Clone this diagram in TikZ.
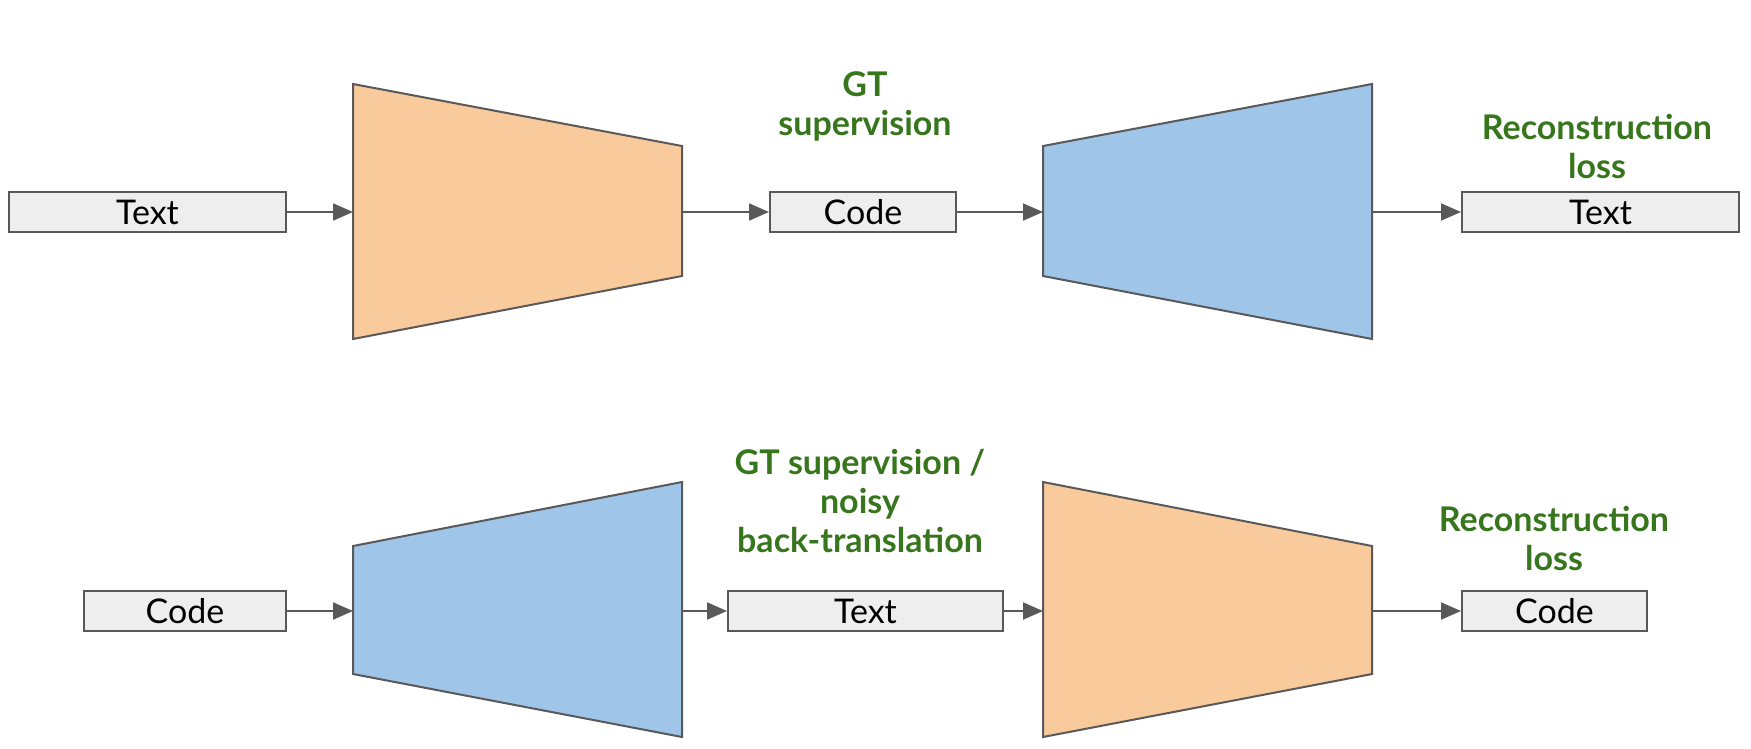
\documentclass[tikz,border=0pt]{standalone}
\usepackage{fontspec}
\setmainfont{Lato}
\usetikzlibrary{arrows.meta}
\definecolor{lineg}{HTML}{595959}
\definecolor{boxfill}{HTML}{EEEEEE}
\definecolor{orangefill}{HTML}{F9CB9C}
\definecolor{bluefill}{HTML}{9FC5E8}
\definecolor{greentxt}{HTML}{38761D}
\tikzset{
  databox/.style={draw=lineg, line width=2pt, fill=boxfill, minimum height=40pt, inner sep=0pt,
    font=\fontsize{34}{38}\selectfont},
  enc/.style={draw=lineg, line width=2pt, fill=orangefill, line join=miter},
  dec/.style={draw=lineg, line width=2pt, fill=bluefill, line join=miter},
  flow/.style={draw=lineg, line width=2pt, -{Triangle[length=20pt,width=17pt]}},
  lbl/.style={text=greentxt, font=\bfseries\fontsize{34}{39}\selectfont, align=center, inner sep=0pt}
}
\begin{document}
\begin{tikzpicture}[x=1pt,y=-1pt]
\useasboundingbox (0,0) rectangle (1751,748);
% top row
\node[databox, minimum width=277pt] (t1) at (147.5,212) {Text};
\draw[enc] (353,84) -- (682,146) -- (682,276) -- (353,339) -- cycle;
\coordinate (e1in) at (353,212);
\coordinate (e1out) at (682,212);
\node[databox, minimum width=186pt] (c1) at (863,212) {Code};
\draw[dec] (1043,146) -- (1372,84) -- (1372,339) -- (1043,276) -- cycle;
\coordinate (d1in) at (1043,212);
\coordinate (d1out) at (1372,212);
\node[databox, minimum width=277pt] (t2) at (1600.5,212) {Text};
\draw[flow] (t1.east) -- (e1in);
\draw[flow] (e1out) -- (c1.west);
\draw[flow] (c1.east) -- (d1in);
\draw[flow] (d1out) -- (t2.west);
\node[lbl] (gt1) at (865,106) {GT\\supervision};
\node[lbl] (rl1) at (1597,146) {Reconstruction\\loss};
% bottom row
\node[databox, minimum width=202pt] (c2) at (185,611) {Code};
\draw[dec] (353,546) -- (682,482) -- (682,737) -- (353,674) -- cycle;
\coordinate (d2in) at (353,611);
\coordinate (d2out) at (682,611);
\node[databox, minimum width=275pt] (t3) at (865.5,611) {Text};
\draw[enc] (1043,482) -- (1372,546) -- (1372,674) -- (1043,737) -- cycle;
\coordinate (e2in) at (1043,611);
\coordinate (e2out) at (1372,611);
\node[databox, minimum width=185pt] (c3) at (1554.5,611) {Code};
\draw[flow] (c2.east) -- (d2in);
\draw[flow] (d2out) -- (t3.west);
\draw[flow] (t3.east) -- (e2in);
\draw[flow] (e2out) -- (c3.west);
\node[lbl] (gt2) at (860,501) {GT supervision /\\noisy\\back-translation};
\node[lbl] (rl2) at (1554,538) {Reconstruction\\loss};
\end{tikzpicture}
\end{document}
